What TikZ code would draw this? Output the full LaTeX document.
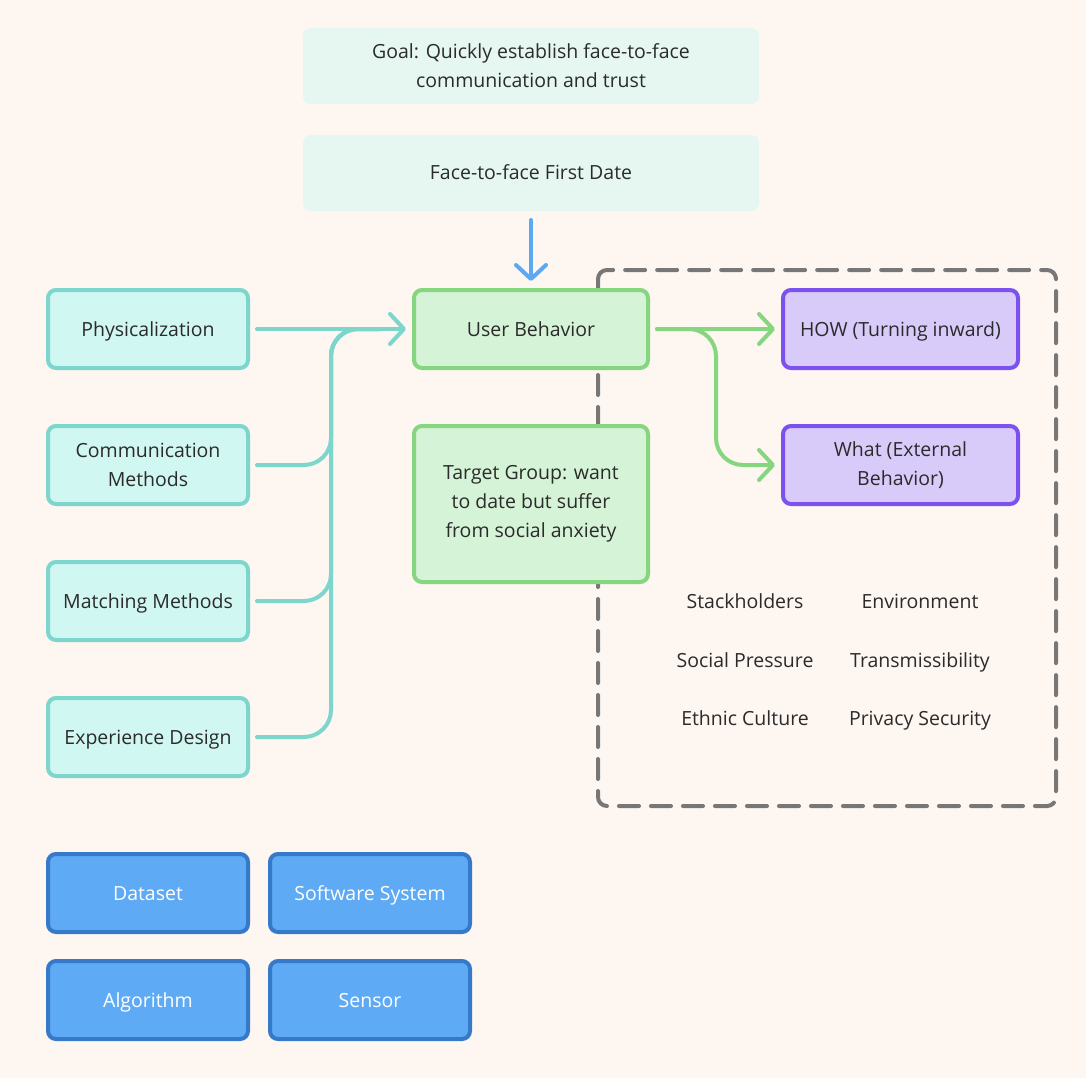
\documentclass[tikz,border=0pt]{standalone}
\usepackage{fontspec}
\setmainfont{Open Sans}
\usetikzlibrary{arrows.meta}
\definecolor{bg}{HTML}{FEF6F1}
\definecolor{txt}{HTML}{2B2B2B}
\definecolor{mintfill}{HTML}{E5F7F0}
\definecolor{cyanfill}{HTML}{D1F7F2}
\definecolor{cyanline}{HTML}{7DD6CB}
\definecolor{greenfill}{HTML}{D5F3D6}
\definecolor{greenline}{HTML}{86D57F}
\definecolor{purplefill}{HTML}{D8CBFA}
\definecolor{purpleline}{HTML}{7B52EE}
\definecolor{bluefill}{HTML}{5EAAF5}
\definecolor{blueline}{HTML}{3679C9}
\definecolor{arrowblue}{HTML}{5AA9F2}
\definecolor{dashgray}{HTML}{777777}
\tikzset{
  basebox/.style={rectangle, rounded corners=8pt, line width=4pt, text=txt,
    font=\fontsize{19.5}{29}\selectfont, align=center, inner sep=0pt},
  one/.style={text height=19pt, text depth=5pt},
  mintbox/.style={basebox, fill=mintfill, draw=none, minimum width=456pt, minimum height=76pt},
  cyanbox/.style={basebox, fill=cyanfill, draw=cyanline, minimum width=200pt, minimum height=78pt},
  greenbox/.style={basebox, fill=greenfill, draw=greenline, minimum width=234pt, minimum height=78pt},
  purplebox/.style={basebox, fill=purplefill, draw=purpleline, minimum width=235pt, minimum height=78pt},
  bluebox/.style={basebox, fill=bluefill, draw=blueline, text=white, minimum width=200pt, minimum height=78pt, one},
  label/.style={text=txt, font=\fontsize{19.5}{29}\selectfont, inner sep=0pt, one},
  chev/.style={-{Straight Barb[length=14pt,width=30pt,line width=4pt,round]}},
  conn/.style={line width=4pt, line cap=round, line join=round},
}
\begin{document}
\begin{tikzpicture}[x=1pt,y=-1pt]
\useasboundingbox (0,0) rectangle (1086,1078);
\fill[bg] (0,0) rectangle (1086,1078);
% dashed frame
\draw[dashgray, line width=4pt, dash pattern=on 20pt off 12pt, rounded corners=9pt, line cap=round]
  (598,270) rectangle (1056,806);
% top boxes
\node[mintbox] (goal) at (531,66) {Goal: Quickly establish face-to-face\\communication and trust};
\node[mintbox, one] (face) at (531,173) {Face-to-face First Date};
% left boxes
\node[cyanbox, one] (phys) at (148,329) {Physicalization};
\node[cyanbox] (comm) at (148,465) {Communication\\Methods};
\node[cyanbox, one] (match) at (148,601) {Matching Methods};
\node[cyanbox, one] (exp) at (148,737) {Experience Design};
% middle
\node[greenbox, one] (ub) at (531,329) {User Behavior};
\node[greenbox, minimum height=156pt] (tg) at (531,504) {Target Group: want\\to date but suffer\\from social anxiety};
% right
\node[purplebox, one] (how) at (900.5,329) {HOW (Turning inward)};
\node[purplebox] (what) at (900.5,465) {What (External\\Behavior)};
% factors
\node[label] (f1) at (745,601) {Stackholders};
\node[label] (f2) at (920,601) {Environment};
\node[label] (f3) at (745,660) {Social Pressure};
\node[label] (f4) at (920,660) {Transmissibility};
\node[label] (f5) at (745,718) {Ethnic Culture};
\node[label] (f6) at (920,718) {Privacy Security};
% blue boxes
\node[bluebox] (data) at (148,893) {Dataset};
\node[bluebox] (soft) at (370,893) {Software System};
\node[bluebox] (algo) at (148,1000) {Algorithm};
\node[bluebox] (sens) at (370,1000) {Sensor};
% connectors
\draw[conn, arrowblue, chev] ([yshift=-7pt]face.south) -- ([yshift=7pt]ub.north);
\draw[conn, cyanline, rounded corners=27pt] ([xshift=7pt]comm.east) -| (331,329) -- (380,329);
\draw[conn, cyanline, rounded corners=27pt] ([xshift=7pt]match.east) -| (331,329) -- (380,329);
\draw[conn, cyanline, rounded corners=27pt] ([xshift=7pt]exp.east) -| (331,329) -- (380,329);
\draw[conn, cyanline, chev] ([xshift=7pt]phys.east) -- ([xshift=-6pt]ub.west);
\draw[conn, greenline, chev] ([xshift=7pt]ub.east) -- ([xshift=-6pt]how.west);
\draw[conn, greenline, chev, rounded corners=27pt] ([xshift=7pt]ub.east) -| (716,465) -- ([xshift=-6pt]what.west);
\end{tikzpicture}
\end{document}
